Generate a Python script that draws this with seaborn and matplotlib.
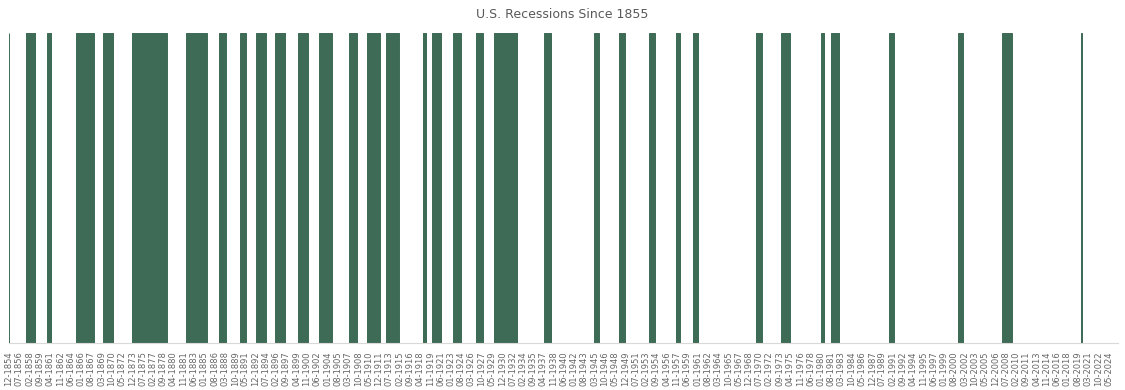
import matplotlib
matplotlib.use('Agg')
import pandas as pd
import numpy as np
import seaborn as sns
import matplotlib.pyplot as plt

# NBER business cycle peaks and troughs (month after peak through trough is recession)
peaks = ['1857-06', '1860-10', '1865-04', '1869-06', '1873-10', '1882-03', '1887-03',
         '1890-07', '1893-01', '1895-12', '1899-06', '1902-09', '1907-05', '1910-01',
         '1913-01', '1918-08', '1920-01', '1923-05', '1926-10', '1929-08', '1937-05',
         '1945-02', '1948-11', '1953-07', '1957-08', '1960-04', '1969-12', '1973-11',
         '1980-01', '1981-07', '1990-07', '2001-03', '2007-12', '2020-02']
troughs = ['1858-12', '1861-06', '1867-12', '1870-12', '1879-03', '1885-05', '1888-04',
           '1891-05', '1894-06', '1897-06', '1900-12', '1904-08', '1908-06', '1912-01',
           '1914-12', '1919-03', '1921-07', '1924-07', '1927-11', '1933-03', '1938-06',
           '1945-10', '1949-10', '1954-05', '1958-04', '1961-02', '1970-11', '1975-03',
           '1980-07', '1982-11', '1991-03', '2001-11', '2009-06', '2020-04']
first_month = '1854-12'
last_month = '2025-10'

months = pd.period_range(first_month, last_month, freq='M')
recession = pd.Series(0, index=months)
recession.iloc[0] = 1  # series opens at the Dec 1854 trough
for p, t in zip(peaks, troughs):
    recession.loc[pd.Period(p, 'M') + 1:pd.Period(t, 'M')] = 1

df = pd.DataFrame({'idx': np.arange(len(months)), 'rec': recession.values})
df = df[df['rec'] > 0]

sns.set_style('white')
fig = plt.figure(figsize=(11.25, 3.9), dpi=100)
ax = fig.add_axes([8.5 / 1125, 1 - 343 / 390, (1118 - 8.5) / 1125, 310 / 390])

color = '#3E6B56'
sns.barplot(data=df, x='idx', y='rec', native_scale=True, width=1, color=color,
            edgecolor=color, linewidth=0.7, saturation=1, ax=ax)

ax.set_xlim(-1, len(months) - 0.5)
ax.set_ylim(0, 1)
ax.set_yticks([])
ax.set_xlabel('')
ax.set_ylabel('')

tick_pos = np.arange(0, len(months), 19)
tick_lab = [months[i].strftime('%m-%Y') for i in tick_pos]
ax.set_xticks(tick_pos)
ax.set_xticklabels(tick_lab, rotation=90, fontsize=6, color='#666666')
ax.tick_params(axis='x', length=0, pad=6)

for s in ['top', 'left', 'right']:
    ax.spines[s].set_visible(False)
ax.spines['bottom'].set_color('#D9D9D9')
ax.spines['bottom'].set_linewidth(0.8)

fig.text(0.5, 1 - 14 / 390, 'U.S. Recessions Since 1855', ha='center', va='center',
         fontsize=9, color='#595959')

fig.savefig('out.png', dpi=100)
plt.close()
